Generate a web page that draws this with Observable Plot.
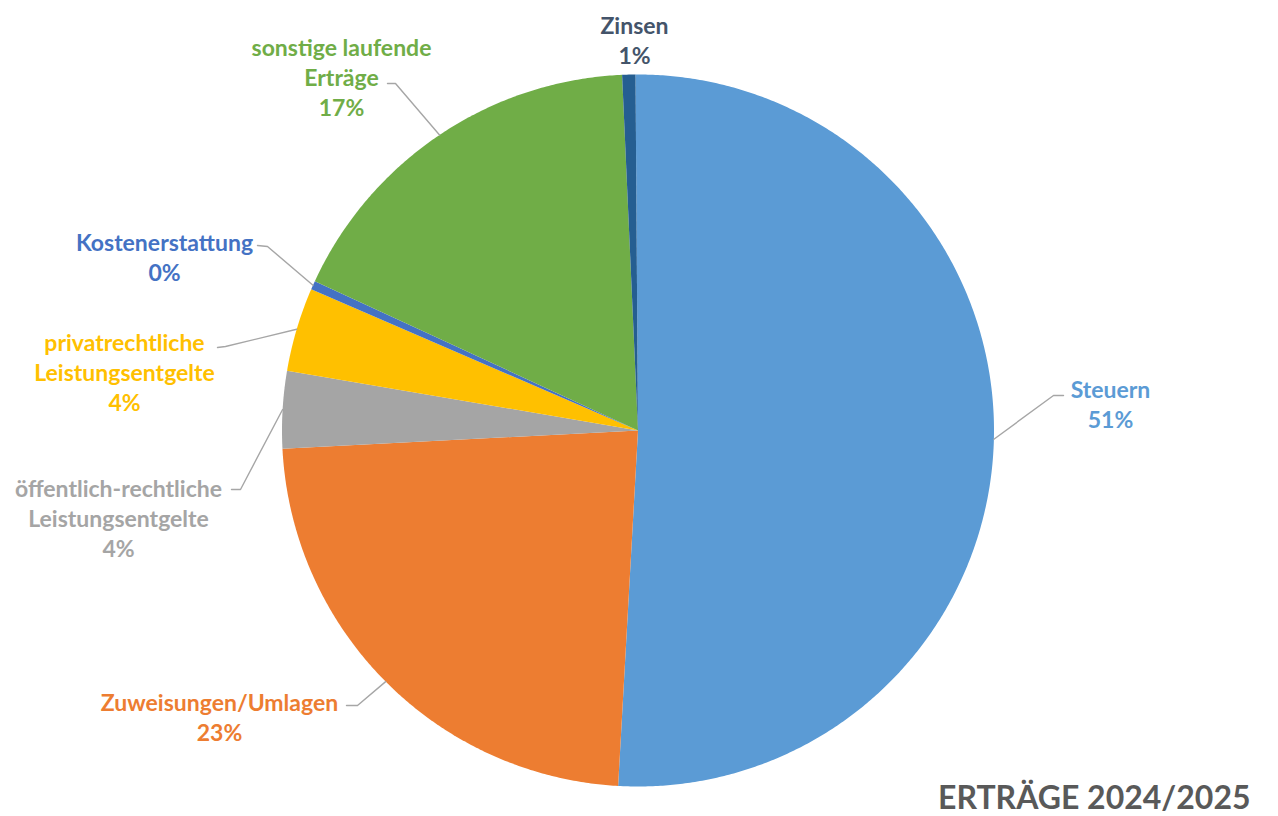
<!DOCTYPE html>
<html>
<head>
<meta charset="utf-8">
<script src="https://cdn.jsdelivr.net/npm/d3@7"></script>
<script src="https://cdn.jsdelivr.net/npm/@observablehq/plot@0.6"></script>
<style>
  html, body { margin: 0; padding: 0; background: #fff; }
  #chart { width: 1278px; height: 816px; overflow: hidden; }
</style>
</head>
<body>
<div id="chart"></div>
<script>
// ---- data ----
const categories = [
  "Steuern",
  "Zuweisungen/Umlagen",
  "öffentlich-rechtliche Leistungsentgelte",
  "privatrechtliche Leistungsentgelte",
  "Kostenerstattung",
  "sonstige laufende Erträge",
  "Zinsen"
];
const labelTexts = [
  "Steuern",
  "Zuweisungen/Umlagen",
  "öffentlich-rechtliche\nLeistungsentgelte",
  "privatrechtliche\nLeistungsentgelte",
  "Kostenerstattung",
  "sonstige laufende\nErträge",
  "Zinsen"
];
const shares = [51.0, 23.3, 3.5, 3.8, 0.4, 17.4, 0.6];
const sliceColors = ["#5B9BD5", "#ED7D31", "#A5A5A5", "#FFC000", "#4472C4", "#70AD47", "#255E91"];
const labelColors = ["#5B9BD5", "#ED7D31", "#A5A5A5", "#FFC000", "#4472C4", "#70AD47", "#44546A"];
const title = "ERTRÄGE 2024/2025";

// ---- layout (pixels) ----
const W = 1278, H = 816;
const CX = 637.5, CY = 430, R = 356;
const rotation = -0.4; // degrees
// label block centres and leader line elbows/ends, in page pixels
const labelLayout = [
  {x: 1110, y: 402.5, elbow: [1053, 395], end: [1063, 395]},
  {x: 219,  y: 715.5, elbow: [357, 705],  end: [346, 705]},
  {x: 118,  y: 517,   elbow: [240, 489],  end: [231, 489]},
  {x: 124,  y: 371,   elbow: [225, 346],  end: [217, 347]},
  {x: 164,  y: 255.5, elbow: [267, 246],  end: [257, 245]},
  {x: 341,  y: 76,    elbow: [395, 83],   end: [387, 83]},
  {x: 634,  y: 39,    elbow: null,        end: null}
];

const px = (p) => [p[0] - CX, CY - p[1]];

const total = d3.sum(shares);
const rad = Math.PI / 180;
const arcs = d3.pie().sort(null).value(d => d)
  .startAngle(rotation * rad).endAngle((360 + rotation) * rad)(shares);

// slice polygons
const slices = arcs.map((a, i) => {
  const pts = [{x: 0, y: 0}];
  const n = Math.max(2, Math.ceil((a.endAngle - a.startAngle) / (0.4 * rad)));
  for (let k = 0; k <= n; k++) {
    const t = a.startAngle + (a.endAngle - a.startAngle) * k / n;
    pts.push({x: R * Math.sin(t), y: R * Math.cos(t)});
  }
  pts.push({x: 0, y: 0});
  return pts;
});
const circle = d3.range(0, 361, 1).map(d => ({x: R * Math.sin(d * rad), y: R * Math.cos(d * rad)}));

// leader lines
const leaders = arcs.map((a, i) => {
  const L = labelLayout[i];
  if (!L.elbow) return null;
  const m = (a.startAngle + a.endAngle) / 2;
  const e = px(L.elbow), f = px(L.end);
  return [{x: R * Math.sin(m), y: R * Math.cos(m)}, {x: e[0], y: e[1]}, {x: f[0], y: f[1]}];
}).filter(d => d);

const labels = categories.map((c, i) => {
  const p = px([labelLayout[i].x, labelLayout[i].y]);
  return {
    text: labelTexts[i] + "\n" + Math.round(shares[i] / total * 100) + "%",
    x: p[0], y: p[1], color: labelColors[i]
  };
});

const titleData = [{text: title}];

const fontSize = 23;

const chart = Plot.plot({
  width: W,
  height: H,
  margin: 0,
  x: {domain: [-CX, W - CX], axis: null},
  y: {domain: [CY - H, CY], axis: null},
  style: {background: "#fff", overflow: "visible"},
  marks: [
    Plot.line(circle, {x: "x", y: "y", fill: "#000", fillOpacity: 0.28, stroke: "none", ariaLabel: "shadow"}),
    ...slices.map((s, i) => Plot.line(s, {x: "x", y: "y", fill: sliceColors[i], stroke: "none", curve: "linear"})),
    ...leaders.map(l => Plot.line(l, {x: "x", y: "y", stroke: "#A6A6A6", strokeWidth: 1.4, curve: "linear"})),
    Plot.text(labels, {
      x: "x", y: "y", text: "text", fill: "color",
      fontSize: fontSize, fontWeight: "bold", fontFamily: "Lato",
      lineHeight: 30 / fontSize, textAnchor: "middle", lineAnchor: "middle"
    }),
    Plot.text(titleData, {
      text: "text", frameAnchor: "bottom-right", dx: -28, dy: -8,
      fontSize: 32, fontWeight: "bold", fontFamily: "Lato", fill: "#595959",
      textAnchor: "end", lineAnchor: "bottom"
    })
  ]
});

document.getElementById("chart").appendChild(chart);
const sh = chart.querySelector('g[aria-label="shadow"]');
if (sh) sh.style.filter = "blur(3px)";
</script>
</body>
</html>
